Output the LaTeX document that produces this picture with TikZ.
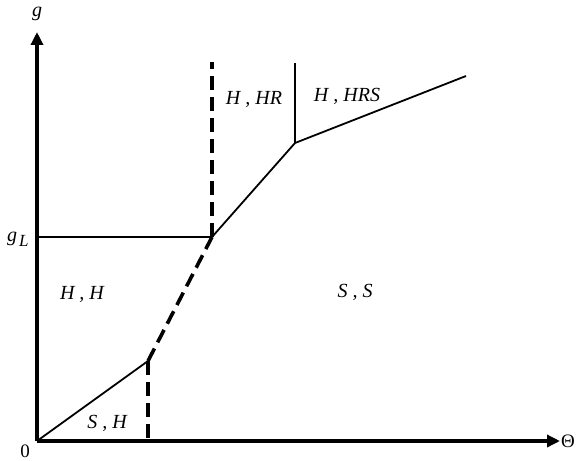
\documentclass[tikz,border=0pt]{standalone}
\usepackage{fontspec}
\setmainfont{Liberation Serif}
\usetikzlibrary{arrows.meta}
\begin{document}
\begin{tikzpicture}[x=1pt,y=-1pt,
  axis/.style={line width=3.6pt,-{Triangle[length=13pt,width=12pt]}},
  thin/.style={line width=1.8pt},
  dashline/.style={line width=3.6pt,dash pattern=on 14pt off 7pt},
  lab/.style={font=\fontsize{20}{24}\selectfont\itshape,inner sep=0pt},
  ulab/.style={font=\fontsize{19}{22}\selectfont,inner sep=0pt}]
\useasboundingbox (0,0) rectangle (577,460);
\coordinate (O) at (37,441);
\coordinate (ytip) at (37,32);
\coordinate (xtip) at (560,441);
\coordinate (k1) at (148,361);
\coordinate (k1b) at (148,441);
\coordinate (k2) at (212,237);
\coordinate (gl) at (37,237);
\coordinate (k2t) at (212,62);
\coordinate (k3) at (295,143);
\coordinate (k3t) at (295,63);
\coordinate (end) at (466,76);
\draw[thin] (O) -- (k1);
\draw[dashline] (k1) -- (k2);
\draw[dashline] (k1) -- (k1b);
\draw[thin] (gl) -- (k2);
\draw[dashline] (k2) -- (k2t);
\draw[thin] (k2) -- (k3) -- (end);
\draw[thin] (k3) -- (k3t);
\draw[axis] (O) -- (ytip);
\draw[axis] (O) -- (xtip);
\node[lab] (g) at (37,14) {g};
\node[lab,anchor=base west] (gL) at (7,241) {g\hspace{2pt}\raisebox{-5pt}{\fontsize{17}{20}\selectfont L}};
\node[ulab] (zero) at (25,451) {0};
\node[ulab] (theta) at (568,441) {Θ};
\node[lab] (hhr) at (254,99) {H , HR};
\node[lab] (hhrs) at (347,96) {H , HRS};
\node[lab] (hh) at (82,294) {H , H};
\node[lab] (ss) at (355,292) {S , S};
\node[lab] (sh) at (107,423) {S , H};
\end{tikzpicture}
\end{document}
